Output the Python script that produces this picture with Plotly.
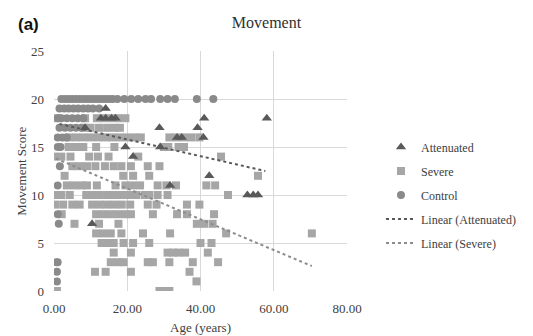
import plotly.graph_objects as go

# ---- Data (age in years, movement score) ----
att_age = [14.1,
           12.8, 14.1, 15.7, 16.8, 41.0, 58.1,
           8.5, 28.8, 39.2,
           33.6, 34.9, 40.8,
           19.5, 29.0,
           21.6,
           42.4,
           31.7,
           52.8, 54.4, 55.7,
           10.4]
att_score = [19,
             18, 18, 18, 18, 18, 18,
             17, 17, 17,
             16, 16, 16,
             15, 15,
             14,
             12,
             11,
             10, 10, 10,
             7]

sev_age = [1.0, 8.5, 11.7, 13.5, 15.5, 17.5, 19.5,
           8.3, 10.0, 12.3, 14.5, 16.5, 18.0,
           4.0, 6.0, 8.0, 10.0, 12.0, 14.0, 16.0, 18.0, 20.0, 22.0, 23.7, 31.5, 33.5, 35.5, 37.5, 39.7,
           4.0, 6.0, 8.0, 11.5, 16.5, 30.0, 31.2, 34.0, 35.5,
           0.0, 2.0, 4.5, 9.6, 12.0, 14.9, 23.0, 45.6,
           5.0, 7.0, 9.0, 11.3, 13.9, 16.3, 18.4, 21.0, 25.6, 28.8,
           2.9, 18.9, 21.6, 26.0, 55.7,
           3.5, 5.5, 7.5, 9.0, 11.7, 16.8, 19.5, 21.5, 23.5, 28.3, 30.7, 33.3, 41.6, 44.0,
           0.0, 2.0, 4.3, 8.8, 10.5, 12.5, 14.5, 16.5, 18.5, 20.5, 22.5, 24.8, 26.0, 28.3, 31.0, 47.5,
           0.3, 2.5, 5.0, 7.0, 10.4, 12.5, 14.5, 16.5, 18.5, 20.8, 25.6, 28.0, 36.3, 39.7,
           2.1, 11.5, 13.5, 15.5, 17.5, 19.5, 21.0, 27.0, 33.6, 36.3, 43.7,
           5.6, 12.3, 17.6, 39.0, 41.0, 43.3,
           11.5, 13.5, 15.5, 18.4, 24.3, 31.7, 47.0, 70.4,
           13.0, 14.7, 16.3, 19.0, 21.6, 26.0, 40.0, 43.0,
           16.3, 21.0, 31.0, 32.5, 34.0, 35.8, 42.0,
           15.5, 17.5, 19.0, 25.6, 27.0, 31.5, 37.9, 44.8,
           11.2, 14.1, 21.0, 37.0,
           38.9,
           0.8, 28.8, 30.5, 31.5]
sev_score = [18, 18, 18, 18, 18, 18, 18,
             17, 17, 17, 17, 17, 17,
             16, 16, 16, 16, 16, 16, 16, 16, 16, 16, 16, 16, 16, 16, 16, 16,
             15, 15, 15, 15, 15, 15, 15, 15, 15,
             14, 14, 14, 14, 14, 14, 14, 14,
             13, 13, 13, 13, 13, 13, 13, 13, 13, 13,
             12, 12, 12, 12, 12,
             11, 11, 11, 11, 11, 11, 11, 11, 11, 11, 11, 11, 11, 11,
             10, 10, 10, 10, 10, 10, 10, 10, 10, 10, 10, 10, 10, 10, 10, 10,
             9, 9, 9, 9, 9, 9, 9, 9, 9, 9, 9, 9, 9, 9,
             8, 8, 8, 8, 8, 8, 8, 8, 8, 8, 8,
             7, 7, 7, 7, 7, 7,
             6, 6, 6, 6, 6, 6, 6, 6,
             5, 5, 5, 5, 5, 5, 5, 5,
             4, 4, 4, 4, 4, 4, 4,
             3, 3, 3, 3, 3, 3, 3, 3,
             2, 2, 2, 2,
             1,
             0, 0, 0, 0]

ctl_age = [2, 3, 4, 5, 6, 7, 8, 9, 10, 11, 12, 13, 14, 15, 16, 17.3, 19.2, 21.1, 23.0, 25.0, 26.5, 29.0, 31.0, 33.0, 39.0, 43.5,
           1.5, 2.8, 4.0, 5.3, 6.6, 8.0, 9.3, 10.6, 12.3,
           1.0, 2.0, 3.5, 5.0, 6.5, 8.0,
           1.5, 3.0, 4.5, 6.0, 7.5,
           1.0, 2.3, 3.5,
           1.0, 1.8,
           1.6,
           1.0,
           1.0,
           1.3,
           0.6, 1.0,
           0.8,
           0.8]
ctl_score = [20, 20, 20, 20, 20, 20, 20, 20, 20, 20, 20, 20, 20, 20, 20, 20, 20, 20, 20, 20, 20, 20, 20, 20, 20, 20,
             19, 19, 19, 19, 19, 19, 19, 19, 19,
             18, 18, 18, 18, 18, 18,
             17, 17, 17, 17, 17,
             16, 16, 16,
             15, 15,
             13,
             11,
             8,
             7,
             3, 3,
             2,
             1]

# Trendline end points
trend_att_age = [1.5, 57.7]
trend_att_score = [17.4, 12.5]
trend_sev_age = [0.5, 70.4]
trend_sev_score = [13.8, 2.6]

x_ticks = [0, 20, 40, 60, 80]
y_ticks = [0, 5, 10, 15, 20, 25]

SERIF = "Liberation Serif"
TXT = "#404040"

fig = go.Figure()
fig.add_trace(go.Scatter(x=sev_age, y=sev_score, mode="markers", name="Severe",
                         marker=dict(symbol="square", size=8, color="#a6a6a6"),
                         legendrank=2, legendgroup="b"))
fig.add_trace(go.Scatter(x=ctl_age, y=ctl_score, mode="markers", name="Control",
                         marker=dict(symbol="circle", size=8, color="#8a8a8a"),
                         legendrank=3, legendgroup="c"))
fig.add_trace(go.Scatter(x=att_age, y=att_score, mode="markers", name="Attenuated",
                         marker=dict(symbol="triangle-up", size=9, color="#595959"),
                         legendrank=1, legendgroup="a"))
fig.add_trace(go.Scatter(x=trend_att_age, y=trend_att_score, mode="lines", name="Linear (Attenuated)",
                         line=dict(color="#595959", width=2, dash="dot"),
                         legendrank=4, legendgroup="d"))
fig.add_trace(go.Scatter(x=trend_sev_age, y=trend_sev_score, mode="lines", name="Linear (Severe)",
                         line=dict(color="#8c8c8c", width=2, dash="dot"),
                         legendrank=5, legendgroup="e"))

fig.update_layout(
    template="none",
    width=533, height=336,
    margin=dict(l=54, r=179, t=51, b=45),
    paper_bgcolor="white", plot_bgcolor="white",
    font=dict(family=SERIF, size=13, color=TXT),
    title=dict(text="Movement", x=0.5, xref="container", y=1 - 22 / 336, yref="container",
               yanchor="middle", font=dict(family=SERIF, size=16, color="#303030")),
    legend=dict(x=1.116, y=0.66, xanchor="left", yanchor="top",
                font=dict(family=SERIF, size=12, color=TXT),
                traceorder="grouped", tracegroupgap=5, bgcolor="rgba(0,0,0,0)"),
    xaxis=dict(range=[0, 80], tickvals=x_ticks, tickformat=".2f", showgrid=True,
               gridcolor="#d9d9d9", gridwidth=1, zeroline=False, showline=False, ticks="",
               ticklabelstandoff=8, tickfont=dict(family=SERIF, size=13, color=TXT)),
    yaxis=dict(range=[0, 25], tickvals=y_ticks, showgrid=True,
               gridcolor="#d9d9d9", gridwidth=1, zeroline=False, showline=False, ticks="",
               ticklabelstandoff=9, tickfont=dict(family=SERIF, size=13, color=TXT)),
    annotations=[
        dict(text="<b>(a)</b>", x=(15 - 54) / 300, y=(291 - 25) / 240, xref="paper", yref="paper",
             xanchor="left", yanchor="middle", showarrow=False,
             font=dict(family="Liberation Sans", size=17, color="#111111")),
        dict(text="Age (years)", x=0.5, y=-36 / 240, xref="paper", yref="paper",
             xanchor="center", yanchor="middle", showarrow=False,
             font=dict(family=SERIF, size=13, color=TXT)),
        dict(text="Movement Score", x=-34 / 300, y=0.5, xref="paper", yref="paper",
             xanchor="center", yanchor="middle", textangle=-90, showarrow=False,
             font=dict(family=SERIF, size=13, color=TXT)),
    ],
)

fig.write_html("out.html", config={"displayModeBar": False},
               post_script="document.body.style.margin='0';")
